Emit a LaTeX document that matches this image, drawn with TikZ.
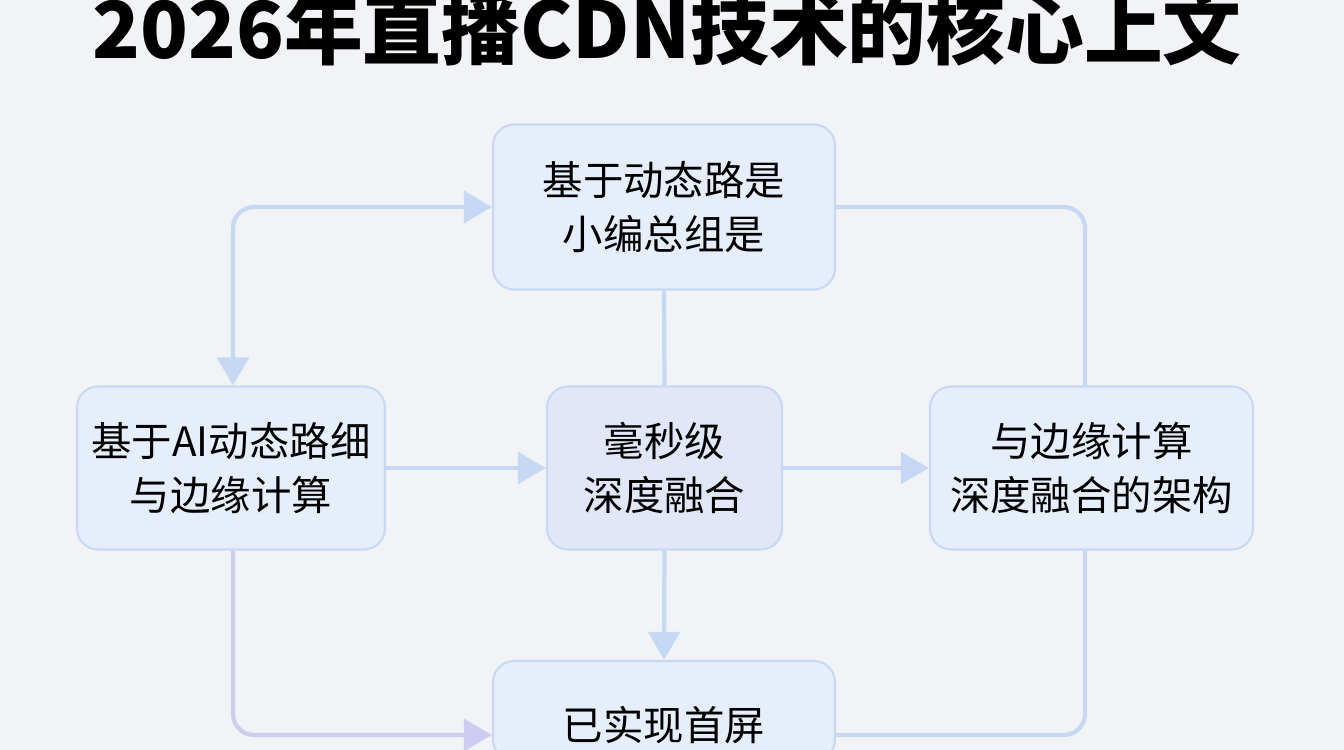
\documentclass[tikz,border=0pt]{standalone}
\usepackage{fontspec}
\setmainfont{Noto Sans CJK SC}
\usepackage{tikz}
\usetikzlibrary{arrows.meta}
\definecolor{bgc}{HTML}{F1F3F7}
\definecolor{boxc}{HTML}{E5EEFA}
\definecolor{boxd}{HTML}{C9D9F2}
\definecolor{linec}{HTML}{C6D8F3}
\definecolor{linep}{HTML}{CFCCF2}
\tikzset{
  blk/.style={draw=boxd, fill=boxc, rounded corners=6pt, line width=.6pt,
    align=center, font=\fontsize{11.5}{15.5}\selectfont, inner sep=0pt},
  con/.style={linec, line width=1.2pt, rounded corners=6pt},
  arr/.style={con, -{Triangle[length=8pt,width=9pt]}}
}
\begin{document}
\begin{tikzpicture}
	%Fondo
	\fill[bgc] (0,0) rectangle (13.44,7.5);
	\useasboundingbox (0,0) rectangle (13.44,7.5);
	%Titulo
	\node[font=\bfseries\fontsize{22.4}{24}\selectfont] (titulo) at (6.67,7.22) {2026年直播CDN技术的核心上文};
	%Cajas
	\node[blk, minimum width=3.42cm, minimum height=1.65cm] (arriba) at (6.64,5.43) {基于动态路是\\小编总组是};
	\node[blk, minimum width=3.08cm, minimum height=1.63cm] (izq) at (2.31,2.82) {基于AI动态路细\\与边缘计算};
	\node[blk, minimum width=2.35cm, minimum height=1.63cm, fill=boxc!80!linep] (centro) at (6.645,2.82) {毫秒级\\深度融合};
	\node[blk, minimum width=3.23cm, minimum height=1.63cm] (der) at (10.915,2.82) {与边缘计算\\深度融合的架构};
	\node[blk, minimum width=3.42cm, minimum height=1.0cm] (abajo) at (6.64,0.39) {};
	\node[font=\fontsize{11.5}{15.5}\selectfont] (abajot) at (6.64,0.25) {已实现首屏};
	%Conectores
	\coordinate (esq1) at (2.33,5.45);
	\draw[con, {Triangle[length=8pt,width=9pt]}-{Triangle[length=8pt,width=9pt]}] (izq.north -| esq1) |- (arriba.west);
	\draw[con] (arriba.east) -| (10.85,3.63);
	\draw[con] (arriba.south) -- (centro.north);
	\draw[arr] (izq.east) -- (centro.west);
	\draw[arr] (centro.east) -- (der.west);
	\draw[arr] (centro.south) -- (abajo.north);
	\draw[con, linep, -{Triangle[length=8pt,width=9pt]}] (izq.south -| esq1) |- (abajo.west |- 0,0.15);
	\draw[con] (10.85,2.0) |- (abajo.east |- 0,0.15);
\end{tikzpicture}
\end{document}
